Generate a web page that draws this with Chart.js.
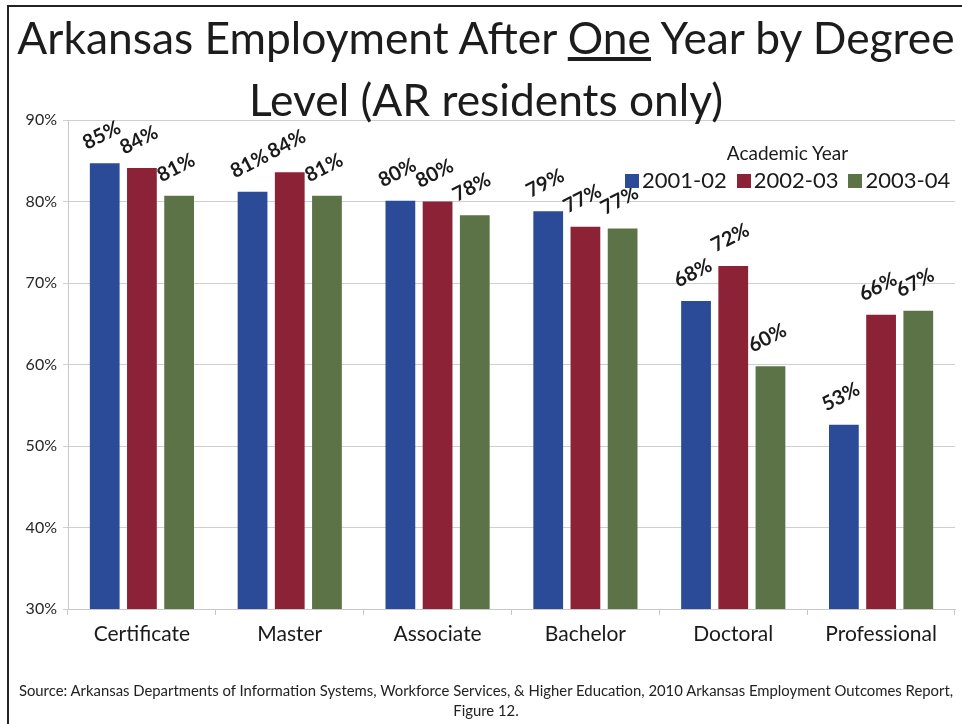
<!DOCTYPE html>
<html lang="en">
<head>
<meta charset="UTF-8">
<title>Arkansas Employment After One Year by Degree Level</title>
<script src="https://cdn.jsdelivr.net/npm/chart.js@4.4.0/dist/chart.umd.min.js"></script>
<style>
    body { margin: 0; background: #fff; font-family: Lato, sans-serif; color: #1a1a1a; }
    #page { position: relative; width: 962px; height: 724px; overflow: hidden; }
    #frame { position: absolute; left: 7px; top: 5px; width: 970px; height: 730px;
             border-left: 2px solid #222; border-top: 2px solid #222; }
    #chartBox { position: absolute; left: 0; top: 0; width: 962px; height: 724px; }
    .title { position: absolute; left: 10px; width: 952px; text-align: center; white-space: nowrap;
             font-size: 44px; line-height: 50px; color: #1c1c1c; }
    #legend { position: absolute; left: 620px; top: 141px; width: 335px; text-align: center; white-space: nowrap; }
    #legend .head { font-size: 19px; line-height: 24px; }
    #legend .item { display: inline-block; font-size: 22px; line-height: 30px; margin: 0 5px; }
    #legend .sw { display: inline-block; width: 14px; height: 14px; margin-right: 3px; }
    .source { position: absolute; left: 10px; width: 952px; text-align: center; font-size: 13.5px;
              white-space: nowrap; color: #222; }
</style>
</head>
<body>
<div id="page">
    <div id="chartBox"><canvas id="myChart"></canvas></div>
    <div class="title" id="t1" style="top:12px">Arkansas Employment After <u>One</u> Year by Degree</div>
    <div class="title" id="t2" style="top:74px">Level (AR residents only)</div>
    <div id="legend"></div>
    <div class="source" id="s1" style="top:681px">Source: Arkansas Departments of Information Systems, Workforce Services, &amp; Higher Education, 2010 Arkansas Employment Outcomes Report,</div>
    <div class="source" id="s2" style="top:701px">Figure 12.</div>
    <div id="frame"></div>
</div>

<script type="text/javascript">
// categorie e valori
var degrees = ["Certificate", "Master", "Associate", "Bachelor", "Doctoral", "Professional"];
var years = ["2001-02", "2002-03", "2003-04"];
var y2001 = [84.7, 81.2, 80.1, 78.8, 67.8, 52.6];
var y2002 = [84.1, 83.6, 80.0, 76.9, 72.1, 66.1];
var y2003 = [80.7, 80.7, 78.3, 76.7, 59.8, 66.6];
var yTicks = [30, 40, 50, 60, 70, 80, 90];
var colors = ["#2b4a98", "#8b2236", "#5b7346"];

// adatta la dimensione del testo alla larghezza dell'originale
function fitWidth(id, baseSize, target, others) {
    var el = document.getElementById(id);
    var span = document.createElement("span");
    span.innerHTML = el.innerHTML;
    el.innerHTML = "";
    el.appendChild(span);
    var size = baseSize * target / span.offsetWidth;
    el.style.fontSize = size + "px";
    (others || []).forEach(function (o) { document.getElementById(o).style.fontSize = size + "px"; });
}
fitWidth("t1", 44, 937, ["t2"]);
fitWidth("s1", 13.5, 935, ["s2"]);

// legenda
var legendHtml = '<div class="head">Academic Year</div>';
for (var i = 0; i < years.length; i++) {
    legendHtml += '<span class="item"><span class="sw" style="background:' + colors[i] + '"></span>' + years[i] + '</span>';
}
document.getElementById("legend").innerHTML = legendHtml;

// etichette percentuali ruotate sopra le barre
const barLabels = {
    id: 'barLabels',
    afterDatasetsDraw(chart) {
        const ctx = chart.ctx;
        chart.data.datasets.forEach(function (ds, i) {
            chart.getDatasetMeta(i).data.forEach(function (bar, j) {
                ctx.save();
                ctx.translate(bar.x - 3, bar.y - 28);
                ctx.rotate(-27 * Math.PI / 180);
                ctx.font = 'bold 20px Lato';
                ctx.fillStyle = '#1a1a1a';
                ctx.textAlign = 'center';
                ctx.textBaseline = 'middle';
                ctx.fillText(Math.round(ds.data[j]) + '%', 0, 0);
                ctx.restore();
            });
        });
    }
};

const data = {
    labels: degrees,
    datasets: [y2001, y2002, y2003].map(function (vals, i) {
        return {
            label: years[i],
            data: vals,
            backgroundColor: colors[i],
            borderColor: colors[i],
            borderWidth: 0,
            categoryPercentage: 0.755,
            barPercentage: 0.8
        };
    })
};

const config = {
    type: 'bar',
    data: data,
    plugins: [barLabels],
    options: {
        responsive: true,
        maintainAspectRatio: false,
        animation: false,
        layout: { padding: { top: 120, right: 7, left: 0, bottom: 0 } },
        plugins: {
            legend: { display: false },
            title: { display: false },
            tooltip: { enabled: false }
        },
        scales: {
            x: {
                afterFit: function (scale) { scale.height = 115; },
                grid: { drawOnChartArea: false, tickLength: 6, color: '#c8c8c8' },
                border: { color: '#c8c8c8' },
                ticks: { font: { family: 'Lato', size: 21 }, color: '#1a1a1a', padding: 7 }
            },
            y: {
                min: 30,
                max: 90,
                afterFit: function (scale) { scale.width = 68; },
                afterBuildTicks: function (scale) {
                    scale.ticks = yTicks.map(function (v) { return { value: v }; });
                },
                grid: { color: '#cfcfcf', tickLength: 5 },
                border: { color: '#c8c8c8' },
                ticks: {
                    font: { family: 'Lato', size: 16 },
                    color: '#262626',
                    padding: 6,
                    callback: function (v) { return v + '%'; }
                }
            }
        }
    }
};

var myChart = new Chart(document.getElementById('myChart'), config);
</script>
</body>
</html>
